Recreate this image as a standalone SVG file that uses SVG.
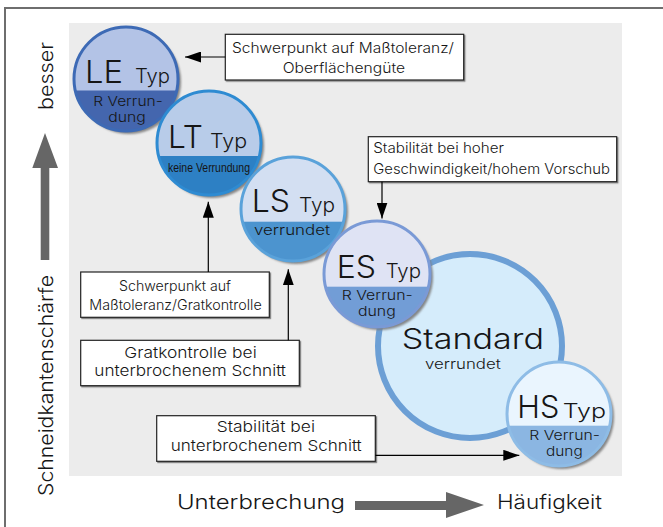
<svg xmlns="http://www.w3.org/2000/svg" width="663" height="527" viewBox="0 0 663 527">
<style>
text{font-family:Inter,"Open Sans","DejaVu Sans",sans-serif;fill:#161616;font-weight:300}
.box{fill:#fff;stroke:#222;stroke-width:1.2}
.bt{font-size:14px}
.big{font-size:31px}
.typ{font-size:20px}
.sub{font-size:13px}
.cn{stroke:#000;stroke-width:1.2;fill:none;marker-end:url(#ah)}
.ax{font-size:20px}
</style>
<defs>
<marker id="ah" markerUnits="userSpaceOnUse" markerWidth="16" markerHeight="11" refX="16" refY="5.5" orient="auto">
<path d="M0,0 L16,5.5 L0,11 z" fill="#000"/>
</marker>
<filter id="sh" x="-20%" y="-20%" width="150%" height="150%">
<feDropShadow dx="3" dy="3" stdDeviation="1.2" flood-color="#7a7a7a" flood-opacity="0.9"/>
</filter>
<filter id="bs" x="-5%" y="-5%" width="115%" height="130%">
<feDropShadow dx="1.2" dy="1.2" stdDeviation="0.4" flood-color="#555" flood-opacity="0.7"/>
</filter>
<clipPath id="cLE"><circle cx="126" cy="79" r="52"/></clipPath>
<clipPath id="cLT"><circle cx="209" cy="143" r="52"/></clipPath>
<clipPath id="cLS"><circle cx="293" cy="209" r="52"/></clipPath>
<clipPath id="cES"><circle cx="377" cy="274" r="53"/></clipPath>
<clipPath id="cHS"><circle cx="559" cy="414" r="52"/></clipPath>
</defs>

<!-- frame -->
<rect x="0" y="0" width="663" height="527" fill="#fff"/>
<path d="M5,527 L5,8 L663,8" fill="none" stroke="#6e6e6e" stroke-width="2"/>
<rect x="69" y="23" width="553" height="453" fill="#ececec"/>

<!-- axes -->
<g id="axis-y">
<path d="M40.7,260 L40.7,168 L32.3,168 L45,133 L58,168 L49.3,168 L49.3,260 z" fill="#666"/>
<text class="ax" transform="translate(52.5,110) rotate(-90)" textLength="68" lengthAdjust="spacingAndGlyphs">besser</text>
<text class="ax" transform="translate(52.5,496) rotate(-90)" textLength="221" lengthAdjust="spacingAndGlyphs">Schneidkantenschärfe</text>
</g>
<g id="axis-x">
<path d="M355,501 L446,501 L446,492 L484,505 L446,518 L446,510 L355,510 z" fill="#666"/>
<text class="ax" x="177" y="509" textLength="168" lengthAdjust="spacingAndGlyphs">Unterbrechung</text>
<text class="ax" x="497" y="509" textLength="105" lengthAdjust="spacingAndGlyphs">Häufigkeit</text>
</g>

<!-- circles -->
<g id="node-LE">
<circle cx="126" cy="79" r="52" fill="#b3c3e6" filter="url(#sh)"/>
<rect x="70" y="90.5" width="112" height="50" fill="#4466ae" clip-path="url(#cLE)"/>
<circle cx="126" cy="79" r="52" fill="none" stroke="#3d6ab5" stroke-width="3"/>
<text class="big" x="85" y="82.5" textLength="38" lengthAdjust="spacingAndGlyphs">LE</text>
<text class="typ" x="135" y="82.5" textLength="35" lengthAdjust="spacingAndGlyphs">Typ</text>
<text class="sub" x="93.3" y="106" textLength="69.4" lengthAdjust="spacingAndGlyphs">R Verrun-</text>
<text class="sub" x="108.3" y="121.5" textLength="37.4" lengthAdjust="spacingAndGlyphs">dung</text>
</g>
<g id="node-LT">
<circle cx="209" cy="143" r="52" fill="#b8cce9" filter="url(#sh)"/>
<rect x="150" y="156" width="120" height="50" fill="#2d80c4" clip-path="url(#cLT)"/>
<circle cx="209" cy="143" r="52" fill="none" stroke="#2e8bd2" stroke-width="3"/>
<text class="big" x="168" y="147.5" textLength="35" lengthAdjust="spacingAndGlyphs">LT</text>
<text class="typ" x="210" y="147.5" textLength="37" lengthAdjust="spacingAndGlyphs">Typ</text>
<text class="sub" x="168" y="171.5" textLength="82" lengthAdjust="spacingAndGlyphs" style="font-family:'Liberation Sans Narrow','Liberation Sans',sans-serif;font-size:13px;font-weight:400">keine Verrundung</text>
</g>
<g id="node-LS">
<circle cx="293" cy="209" r="52" fill="#d3dff2" filter="url(#sh)"/>
<rect x="235" y="221.7" width="120" height="50" fill="#4c94cf" clip-path="url(#cLS)"/>
<circle cx="293" cy="209" r="52" fill="none" stroke="#5aa2da" stroke-width="3"/>
<text class="big" x="251.7" y="211.7" textLength="38.3" lengthAdjust="spacingAndGlyphs">LS</text>
<text class="typ" x="299" y="211.7" textLength="36" lengthAdjust="spacingAndGlyphs">Typ</text>
<text class="sub" x="254" y="235" textLength="76" lengthAdjust="spacingAndGlyphs" style="font-size:14px">verrundet</text>
</g>
<g id="node-Standard">
<circle cx="470" cy="346" r="92" fill="#d5ecfb" stroke="#6c9fd5" stroke-width="6"/>
<text x="401.7" y="349" style="font-size:28px" textLength="142.3" lengthAdjust="spacingAndGlyphs">Standard</text>
<text class="sub" x="425" y="369" style="font-size:14px" textLength="75.7" lengthAdjust="spacingAndGlyphs">verrundet</text>
</g>
<g id="node-ES">
<circle cx="377" cy="274" r="53" fill="#dfe3f4" filter="url(#sh)"/>
<rect x="320" y="286.7" width="120" height="50" fill="#729dd6" clip-path="url(#cES)"/>
<circle cx="377" cy="274" r="53" fill="none" stroke="#7a9ad6" stroke-width="3"/>
<text class="big" x="336.7" y="278.3" textLength="39.3" lengthAdjust="spacingAndGlyphs">ES</text>
<text class="typ" x="385.7" y="278.3" textLength="35.3" lengthAdjust="spacingAndGlyphs">Typ</text>
<text class="sub" x="341.7" y="300" textLength="71" lengthAdjust="spacingAndGlyphs">R Verrun-</text>
<text class="sub" x="358" y="315.5" textLength="37.7" lengthAdjust="spacingAndGlyphs">dung</text>
</g>
<g id="node-HS">
<circle cx="559" cy="414" r="52" fill="#eaf5fe" filter="url(#sh)"/>
<rect x="500" y="425.7" width="120" height="50" fill="#8bb6e2" clip-path="url(#cHS)"/>
<circle cx="559" cy="414" r="52" fill="none" stroke="#8ebce6" stroke-width="3"/>
<text class="big" x="517.3" y="418.3" textLength="42" lengthAdjust="spacingAndGlyphs">HS</text>
<text class="typ" x="562.7" y="418.3" textLength="43.3" lengthAdjust="spacingAndGlyphs">Typ</text>
<text class="sub" x="529.3" y="440" textLength="70.7" lengthAdjust="spacingAndGlyphs">R Verrun-</text>
<text class="sub" x="546" y="456" textLength="36.7" lengthAdjust="spacingAndGlyphs">dung</text>
</g>

<!-- annotation boxes -->
<g id="box-oberflaeche">
<rect class="box" x="225.3" y="34.3" width="238.4" height="45.7" filter="url(#bs)"/>
<text class="bt" x="232" y="53.3" textLength="222" lengthAdjust="spacingAndGlyphs">Schwerpunkt auf Maßtoleranz/</text>
<text class="bt" x="282.7" y="72.7" textLength="122.3" lengthAdjust="spacingAndGlyphs">Oberflächengüte</text>
</g>
<g id="box-geschwindigkeit">
<rect class="box" x="368.3" y="136.7" width="248.4" height="45" filter="url(#bs)"/>
<text class="bt" x="373.3" y="153.3" textLength="130.7" lengthAdjust="spacingAndGlyphs">Stabilität bei hoher</text>
<text class="bt" x="373.3" y="174" textLength="236.7" lengthAdjust="spacingAndGlyphs">Geschwindigkeit/hohem Vorschub</text>
</g>
<g id="box-gratkontrolle">
<rect class="box" x="80.7" y="272" width="188.6" height="45.3" filter="url(#bs)"/>
<text class="bt" x="119" y="291.3" textLength="112" lengthAdjust="spacingAndGlyphs">Schwerpunkt auf</text>
<text class="bt" x="89.3" y="309.7" textLength="172.4" lengthAdjust="spacingAndGlyphs">Maßtoleranz/Gratkontrolle</text>
</g>
<g id="box-unterbrochen1">
<rect class="box" x="80.7" y="340.3" width="218.6" height="45.4" filter="url(#bs)"/>
<text class="bt" x="124.3" y="358" textLength="132.4" lengthAdjust="spacingAndGlyphs" style="font-size:15px">Gratkontrolle bei</text>
<text class="bt" x="94.3" y="376.3" textLength="191.7" lengthAdjust="spacingAndGlyphs" style="font-size:15px">unterbrochenem Schnitt</text>
</g>
<g id="box-unterbrochen2">
<rect class="box" x="156.7" y="415.7" width="218.6" height="45.6" filter="url(#bs)"/>
<text class="bt" x="216.7" y="432.3" textLength="98.3" lengthAdjust="spacingAndGlyphs" style="font-size:15px">Stabilität bei</text>
<text class="bt" x="170.7" y="451.3" textLength="191" lengthAdjust="spacingAndGlyphs" style="font-size:15px">unterbrochenem Schnitt</text>
</g>

<!-- connectors -->
<g id="connectors">
<line class="cn" x1="225.3" y1="57" x2="185" y2="57"/>
<line class="cn" x1="382" y1="181.7" x2="382" y2="218.5"/>
<line class="cn" x1="208.3" y1="272" x2="208.3" y2="201.7"/>
<line class="cn" x1="288.3" y1="340.3" x2="288.3" y2="269.3"/>
<line class="cn" x1="375.3" y1="455.3" x2="519.3" y2="455.3"/>
</g>
</svg>
